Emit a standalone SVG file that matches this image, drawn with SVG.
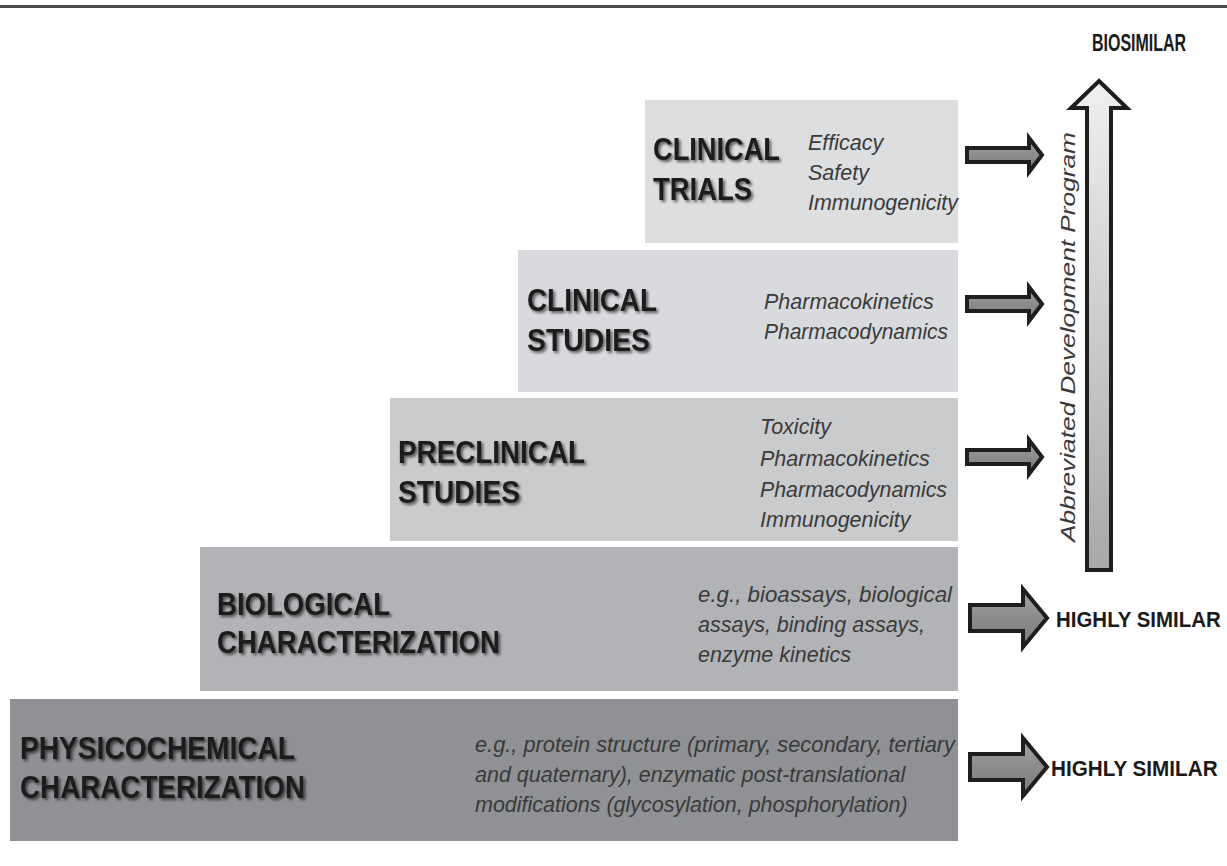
<svg xmlns="http://www.w3.org/2000/svg" width="1227" height="866" viewBox="0 0 1227 866">
<style>
.head{font-family:"Liberation Sans",Arial,sans-serif;font-weight:bold;font-size:31px;fill:#1c1c1c;filter:url(#shadow)}
.it{font-family:"Liberation Sans",Arial,sans-serif;font-style:italic;font-size:21.5px;fill:#3a3a3a}
.lbl{font-family:"Liberation Sans",Arial,sans-serif;font-weight:bold;font-size:22px;fill:#1a1a1a}
.arr{stroke:#1e1e1e;stroke-width:4;stroke-linejoin:miter;fill:url(#gArr)}
</style>
<defs>
<filter id="shadow" x="-10%" y="-30%" width="120%" height="160%">
<feGaussianBlur in="SourceAlpha" stdDeviation="1.5"/>
<feOffset dx="2" dy="2" result="b"/>
<feComponentTransfer><feFuncA type="linear" slope="0.6"/></feComponentTransfer>
<feMerge><feMergeNode/><feMergeNode in="SourceGraphic"/></feMerge>
</filter>
<linearGradient id="gArr" x1="0" y1="0" x2="0" y2="1">
<stop offset="0" stop-color="#a4a4a6"/>
<stop offset="0.5" stop-color="#8c8c8e"/>
<stop offset="1" stop-color="#7a7a7c"/>
</linearGradient>
<linearGradient id="gBig" x1="0" y1="0" x2="0" y2="1">
<stop offset="0" stop-color="#f0f0f0"/>
<stop offset="1" stop-color="#a8a8aa"/>
</linearGradient>
</defs>
<rect width="1227" height="866" fill="#ffffff"/>
<rect x="0" y="5" width="1227" height="3" fill="#4a4a4a"/>

<g id="clinical-trials">
<rect x="645" y="100" width="313" height="143" fill="#dcdee0"/>
<text class="head" x="653" y="160" textLength="127" lengthAdjust="spacingAndGlyphs">CLINICAL</text>
<text class="head" x="653" y="200" textLength="99" lengthAdjust="spacingAndGlyphs">TRIALS</text>
<text class="it" x="808" y="150">Efficacy</text>
<text class="it" x="808" y="180">Safety</text>
<text class="it" x="808" y="210" textLength="150" lengthAdjust="spacingAndGlyphs">Immunogenicity</text>
</g>

<g id="clinical-studies">
<rect x="518" y="250" width="440" height="142" fill="#d8dadd"/>
<text class="head" x="527" y="311" textLength="130" lengthAdjust="spacingAndGlyphs">CLINICAL</text>
<text class="head" x="527" y="351" textLength="123" lengthAdjust="spacingAndGlyphs">STUDIES</text>
<text class="it" x="764" y="309">Pharmacokinetics</text>
<text class="it" x="764" y="339" textLength="184" lengthAdjust="spacingAndGlyphs">Pharmacodynamics</text>
</g>

<g id="preclinical-studies">
<rect x="390" y="398" width="568" height="143" fill="#c9cbcd"/>
<text class="head" x="398" y="463" textLength="187" lengthAdjust="spacingAndGlyphs">PRECLINICAL</text>
<text class="head" x="398" y="503" textLength="122" lengthAdjust="spacingAndGlyphs">STUDIES</text>
<text class="it" x="760" y="434">Toxicity</text>
<text class="it" x="760" y="466">Pharmacokinetics</text>
<text class="it" x="760" y="497" textLength="187" lengthAdjust="spacingAndGlyphs">Pharmacodynamics</text>
<text class="it" x="760" y="527">Immunogenicity</text>
</g>

<g id="biological-characterization">
<rect x="200" y="547" width="758" height="144" fill="#b1b3b6"/>
<text class="head" x="217" y="615" textLength="173" lengthAdjust="spacingAndGlyphs">BIOLOGICAL</text>
<text class="head" x="217" y="653" textLength="283" lengthAdjust="spacingAndGlyphs">CHARACTERIZATION</text>
<text class="it" x="698" y="602" textLength="254" lengthAdjust="spacingAndGlyphs">e.g., bioassays, biological</text>
<text class="it" x="698" y="632">assays, binding assays,</text>
<text class="it" x="698" y="662">enzyme kinetics</text>
</g>

<g id="physicochemical-characterization">
<rect x="10" y="699" width="948" height="142" fill="#8f9194"/>
<text class="head" x="20" y="759" textLength="275" lengthAdjust="spacingAndGlyphs">PHYSICOCHEMICAL</text>
<text class="head" x="20" y="798" textLength="285" lengthAdjust="spacingAndGlyphs">CHARACTERIZATION</text>
<text class="it" x="475" y="752" textLength="480" lengthAdjust="spacingAndGlyphs">e.g., protein structure (primary, secondary, tertiary</text>
<text class="it" x="475" y="782">and quaternary), enzymatic post-translational</text>
<text class="it" x="475" y="812">modifications (glycosylation, phosphorylation)</text>
</g>

<g id="abbreviated-program">
<polygon points="1099,81 1127,108 1111,108 1111,570 1087,570 1087,108 1071,108" fill="url(#gBig)" stroke="#1e1e1e" stroke-width="4"/>
<text class="it" transform="translate(1075,542) rotate(-90)" textLength="410" lengthAdjust="spacingAndGlyphs" style="font-size:21px">Abbreviated Development Program</text>
</g>

<g id="biosimilar">
<text class="lbl" transform="translate(1092,51) scale(0.68,1)" x="0" y="0" style="font-size:23.5px">BIOSIMILAR</text>
</g>

<g id="highly-similar-bio">
<text class="lbl" transform="translate(1056,627) scale(0.93,1)" x="0" y="0">HIGHLY SIMILAR</text>
</g>

<g id="highly-similar-phys">
<text class="lbl" transform="translate(1051,776) scale(0.94,1)" x="0" y="0">HIGHLY SIMILAR</text>
</g>

<g id="connectors">
<polygon class="arr" points="967,148 1029,148 1029,138 1042,155 1029,172 1029,162 967,162"/>
<polygon class="arr" points="967,297 1029,297 1029,287 1042,304 1029,321 1029,311 967,311"/>
<polygon class="arr" points="967,450 1029,450 1029,440 1042,457 1029,474 1029,464 967,464"/>
<polygon class="arr" points="970,605 1023,605 1023,589 1047,618 1023,647 1023,631 970,631"/>
<polygon class="arr" points="970,754 1023,754 1023,738 1047,767 1023,796 1023,780 970,780"/>
</g>
</svg>
